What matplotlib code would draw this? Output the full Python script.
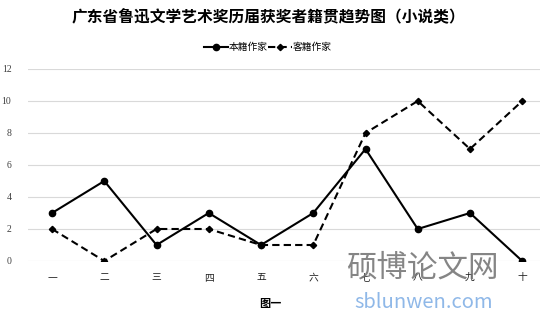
import matplotlib
matplotlib.use("Agg")
import matplotlib.pyplot as plt

plt.rcParams['font.family'] = ['Noto Sans CJK SC', 'DejaVu Sans']

categories = ["一", "二", "三", "四", "五", "六", "七", "八", "九", "十"]
native = [3, 5, 1, 3, 1, 3, 7, 2, 3, 0]
migrant = [2, 0, 2, 2, 1, 1, 8, 10, 7, 10]
yticks = [0, 2, 4, 6, 8, 10, 12]

fig = plt.figure(figsize=(5.43, 3.2), dpi=100)
ax = fig.add_axes([28/543, 1-261/320, 512/543, 192/320])

x = list(range(len(categories)))
l1, = ax.plot(x, native, color='black', lw=1.5, marker='o', ms=4.5, label='本籍作家')
l2, = ax.plot(x, migrant, color='black', lw=1.5, ls=(0, (3.5, 2)), marker='D', ms=3.2, label='客籍作家')

ax.set_xlim(-0.46, 9.34)
ax.set_ylim(0, 12)
ax.set_yticks(yticks)
ax.set_yticklabels([str(v) for v in yticks], fontsize=7, family=['Liberation Serif'], color='#404040')
ax.set_xticks(x)
ax.set_xticklabels(categories, fontsize=7, color='#202020')
ax.tick_params(length=0, pad=8)
ax.tick_params(axis='y', pad=12)
ax.grid(axis='y', color='#d9d9d9', lw=0.8)
ax.set_axisbelow(True)
for s in ax.spines.values():
    s.set_visible(False)

fig.text(268/543, 1-17/320, "广东省鲁迅文学艺术奖历届获奖者籍贯趋势图（小说类）", ha='center', va='center',
         fontsize=11.3, fontweight='bold')
fig.legend(handles=[l1, l2], loc='center', bbox_to_anchor=(268/543, 1-47/320), ncol=2, frameon=False,
           fontsize=7, handlelength=2.4, handletextpad=0.1, columnspacing=0.1, borderaxespad=0)
fig.text(270/543, 1-304/320, "图一", ha='center', va='center', fontsize=8, fontweight='bold')

# watermark
fig.text(422/543, 1-268/320, "硕博论文网", ha='center', va='center', fontsize=22, color='#707070', alpha=0.85)
fig.text(424/543, 1-303/320, "sblunwen.com", ha='center', va='center', fontsize=14.5, color='#8fb8e8')

fig.savefig("out.png", dpi=100)
